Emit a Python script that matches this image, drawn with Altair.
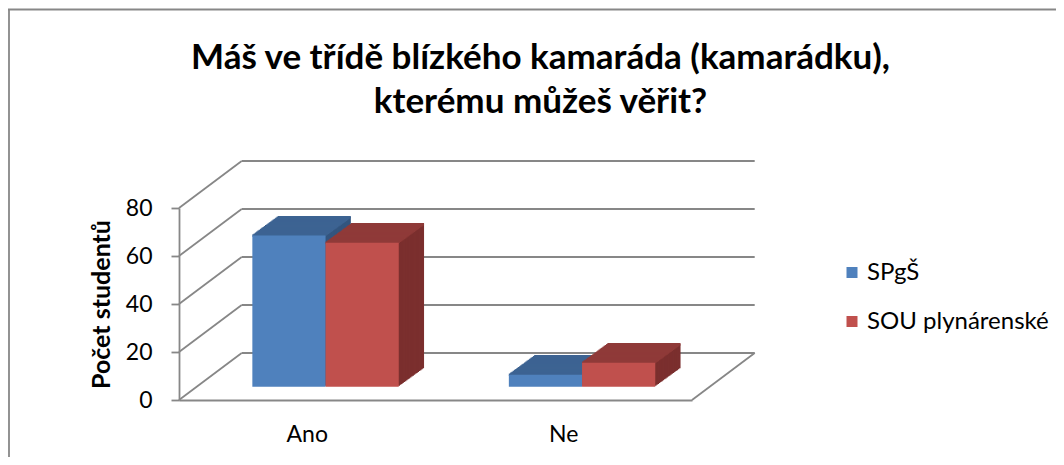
import altair as alt
import pandas as pd

# ---------------- data ----------------
categories = ["Ano", "Ne"]
series_names = ["SPgŠ", "SOU plynárenské"]
spgs_values = [63, 5]
sou_values = [60, 10]
y_ticks = [0, 20, 40, 60, 80]
title_lines = ["Máš ve třídě blízkého kamaráda (kamarádku),", "kterému můžeš věřit?"]
y_title = "Počet studentů"

# ---------------- styles ----------------
FONT = "Lato"
GRID = "#878787"
front_colors = ["#4F81BD", "#C0504D"]
top_colors = ["#3D6392", "#8F3A38"]
side_colors = ["#33557F", "#7B2F2E"]

W, H = 513, 192
PAD = {"left": 171, "top": 200, "right": 364, "bottom": 57}
DX, DY = 62.7, -47.0      # depth of the walls / floor
FX, FY = 18.3, -13.3      # shift of the bar front faces into the depth
BDX, BDY = 25.3, -18.4    # depth of a bar
BAR_BAND = 73.2 / 256.5
HALF = 36.6
N = 20
series_offsets = [FX - HALF, FX + HALF]

xscale = alt.Scale(domain=categories, paddingInner=0, paddingOuter=0)
yscale = alt.Scale(domain=[0, 80], nice=False, zero=True)
cscale = alt.Scale(domain=series_names, range=front_colors)

tick_df = pd.DataFrame({"v": y_ticks})
floor_df = pd.DataFrame({"v": [y_ticks[0]]})
one = pd.DataFrame({"k": [0]})
series_dfs = [
    pd.DataFrame({"category": categories, "series": [name] * len(categories), "value": vals})
    for name, vals in zip(series_names, [spgs_values, sou_values])
]

yaxis = alt.Axis(
    values=y_ticks, grid=False, domainColor=GRID, domainWidth=1.8,
    tickColor=GRID, tickWidth=1.8, tickSize=8,
    labelFont=FONT, labelFontSize=23, labelColor="black", labelPadding=19,
    title=y_title, titleFont=FONT, titleFontSize=25, titleFontWeight="bold",
    titleColor="black", titleX=-78, titleY=H / 2, titleAngle=270,
    titleAlign="center", titleBaseline="middle",
)
xaxis = alt.Axis(
    title=None, labelAngle=0, ticks=False, grid=False,
    domainColor=GRID, domainWidth=1.8,
    labelFont=FONT, labelFontSize=23, labelColor="black", labelPadding=23,
)
legend = alt.Legend(
    title=None, orient="none", legendX=661, legendY=52.5,
    symbolType="square", symbolSize=121, symbolStrokeWidth=0,
    labelFont=FONT, labelFontSize=24, labelColor="black", labelLimit=0,
    rowPadding=25, labelOffset=3, padding=0,
)

layers = []

# outer frame of the chart
layers.append(alt.Chart(one).mark_rule(color=GRID, strokeWidth=1.8).encode(
    x=alt.value(-171), x2=alt.value(877), y=alt.value(-198.5)))
layers.append(alt.Chart(one).mark_rule(color=GRID, strokeWidth=1.8).encode(
    x=alt.value(-170), y=alt.value(-199), y2=alt.value(249)))

# back wall gridlines
layers.append(alt.Chart(tick_df).mark_rule(
    color=GRID, strokeWidth=1.8, xOffset=DX, x2Offset=DX, yOffset=DY).encode(
    x=alt.value(0), x2=alt.value("width"),
    y=alt.Y("v:Q", scale=yscale, axis=yaxis)))

# side wall diagonals
layers.append(alt.Chart(tick_df).mark_rule(
    color=GRID, strokeWidth=1.8, x2Offset=DX, y2Offset=DY).encode(
    x=alt.value(0), x2=alt.value(0),
    y=alt.Y("v:Q", scale=yscale, axis=yaxis), y2=alt.Y2("v:Q")))

# floor right diagonal
layers.append(alt.Chart(floor_df).mark_rule(
    color=GRID, strokeWidth=1.8, x2Offset=DX, y2Offset=DY).encode(
    x=alt.value("width"), x2=alt.value("width"),
    y=alt.Y("v:Q", scale=yscale, axis=yaxis), y2=alt.Y2("v:Q")))

sx, sy = BDX / N, BDY / N
for i, df in enumerate(series_dfs):
    ox = series_offsets[i]
    # side faces (swept copies)
    for k in range(N, 0, -1):
        layers.append(alt.Chart(df).mark_bar(
            width={"band": BAR_BAND}, color=side_colors[i],
            xOffset=ox + k * sx, yOffset=FY + k * sy, y2Offset=FY + k * sy).encode(
            x=alt.X("category:N", scale=xscale, axis=xaxis),
            y=alt.Y("value:Q", scale=yscale, axis=yaxis),
            y2=alt.datum(0)))
    # top faces (swept top edge)
    for k in range(N, -1, -1):
        layers.append(alt.Chart(df).mark_bar(
            width={"band": BAR_BAND}, color=top_colors[i],
            xOffset=ox + k * sx, yOffset=FY + k * sy - 1.2, y2Offset=FY + k * sy + 1.2).encode(
            x=alt.X("category:N", scale=xscale, axis=xaxis),
            y=alt.Y("value:Q", scale=yscale, axis=yaxis),
            y2=alt.Y2("value:Q")))
    # front face
    layers.append(alt.Chart(df).mark_bar(
        width={"band": BAR_BAND}, xOffset=ox, yOffset=FY, y2Offset=FY).encode(
        x=alt.X("category:N", scale=xscale, axis=xaxis),
        y=alt.Y("value:Q", scale=yscale, axis=yaxis),
        y2=alt.datum(0),
        color=alt.Color("series:N", scale=cscale, legend=legend)))

chart = alt.layer(*layers).properties(
    width=W, height=H, padding=PAD,
    autosize=alt.AutoSizeParams(type="none"),
    title=alt.TitleParams(
        text=title_lines, font=FONT, fontSize=35, fontWeight="bold", color="black",
        anchor="middle", frame="group", dx=105, lineHeight=44, offset=-112,
    ),
).configure(background="white").configure_view(stroke=None)

chart.save("out.html", embed_options={"renderer": "svg", "actions": False})
